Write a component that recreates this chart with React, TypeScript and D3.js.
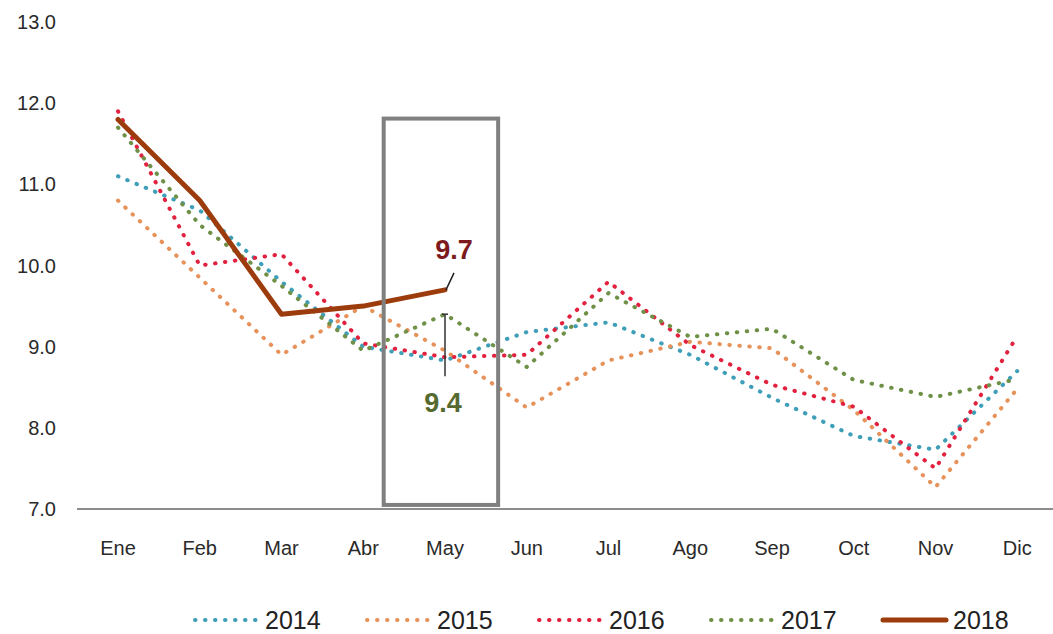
import * as d3 from "d3"

// valores
const months = ["Ene", "Feb", "Mar", "Abr", "May", "Jun", "Jul", "Ago", "Sep", "Oct", "Nov", "Dic"]
const yTicks = [7, 8, 9, 10, 11, 12, 13]

const s2014 = [11.1, 10.68, 9.8, 9.0, 8.83, 9.18, 9.3, 8.9, 8.37, 7.9, 7.73, 8.7]
const s2015 = [10.8, 9.85, 8.9, 9.5, 8.95, 8.25, 8.83, 9.06, 8.98, 8.22, 7.27, 8.48]
const s2016 = [11.9, 10.0, 10.14, 9.04, 8.87, 8.9, 9.8, 9.02, 8.53, 8.26, 7.5, 9.13]
const s2017 = [11.7, 10.5, 9.75, 8.95, 9.4, 8.75, 9.66, 9.12, 9.22, 8.59, 8.38, 8.6]
const s2018 = [11.8, 10.8, 9.4, 9.5, 9.7]

const series = [
  { name: "2014", values: s2014, color: "#3f9fb8", solid: false },
  { name: "2015", values: s2015, color: "#e6925a", solid: false },
  { name: "2016", values: s2016, color: "#e2213f", solid: false },
  { name: "2017", values: s2017, color: "#6f9047", solid: false },
  { name: "2018", values: s2018, color: "#9c3c0c", solid: true },
]

const W = 1053
const H = 634
const FONT = "'Liberation Sans', Arial, sans-serif"

export default function App() {
  const x = d3.scalePoint<string>().domain(months).range([118, 1017.25])
  // index -> pixel, for the highlight box
  const xi = d3.scaleLinear().domain([0, months.length - 1]).range([118, 1017.25])
  const y = d3.scaleLinear().domain([7, 13]).range([509, 22])

  const line = d3
    .line<number>()
    .x((_d, i) => x(months[i]) as number)
    .y((d) => y(d))

  const mayX = x("May") as number

  // legend layout
  const legendStart = 195
  const legendStep = 172

  return (
    <div style={{ position: "absolute", left: 0, top: 0 }}>
      <svg width={W} height={H} style={{ display: "block", background: "#fff" }} fontFamily={FONT}>
        {/* eje Y (solo etiquetas) */}
        {yTicks.map((t) => (
          <text key={t} x={56} y={y(t)} dy="0.35em" textAnchor="end" fontSize={20} fill="#2a2a2a">
            {t.toFixed(1)}
          </text>
        ))}

        {/* línea base */}
        <line x1={77} x2={W} y1={y(7)} y2={y(7)} stroke="#8c8c8c" strokeWidth={2} />

        {/* eje X */}
        {months.map((m) => (
          <text key={m} x={x(m)} y={548} dy="0.35em" textAnchor="middle" fontSize={20} fill="#2a2a2a">
            {m}
          </text>
        ))}

        {/* series */}
        {series.map((s) => (
          <path
            key={s.name}
            d={line(s.values) || ""}
            fill="none"
            stroke={s.color}
            strokeWidth={s.solid ? 5 : 4}
            strokeLinecap="round"
            strokeLinejoin="round"
            strokeDasharray={s.solid ? undefined : "0.5 9.5"}
          />
        ))}

        {/* recuadro de mayo */}
        <rect
          x={xi(3.25)}
          y={y(11.81)}
          width={xi(4.65) - xi(3.25)}
          height={y(7.05) - y(11.81)}
          fill="none"
          stroke="#808080"
          strokeWidth={4}
        />

        {/* anotación 2018 */}
        <line
          x1={mayX + 1}
          y1={y(9.7)}
          x2={mayX + 9}
          y2={y(9.7) - 17}
          stroke="#222"
          strokeWidth={1.5}
        />
        <text
          x={mayX + 9}
          y={y(9.7) - 40}
          dy="0.35em"
          textAnchor="middle"
          fontSize={27}
          fontWeight="bold"
          fill="#7d1a1d"
        >
          9.7
        </text>

        {/* anotación 2017 */}
        <line x1={mayX} y1={y(9.4)} x2={mayX} y2={y(9.4) + 62} stroke="#333" strokeWidth={1.5} />
        <line x1={mayX - 3} y1={y(9.4)} x2={mayX + 3} y2={y(9.4)} stroke="#333" strokeWidth={1.5} />
        <text
          x={mayX - 2}
          y={y(9.4) + 88}
          dy="0.35em"
          textAnchor="middle"
          fontSize={27}
          fontWeight="bold"
          fill="#56692f"
        >
          9.4
        </text>

        {/* leyenda */}
        {series.map((s, i) => {
          const lx = legendStart + i * legendStep
          return (
            <g key={s.name}>
              <line
                x1={lx}
                x2={lx + 63}
                y1={620}
                y2={620}
                stroke={s.color}
                strokeWidth={s.solid ? 5 : 4}
                strokeLinecap="round"
                strokeDasharray={s.solid ? undefined : "0.5 9.5"}
              />
              <text x={lx + 70} y={620} dy="0.35em" fontSize={25} fill="#222">
                {s.name}
              </text>
            </g>
          )
        })}
      </svg>
    </div>
  )
}
